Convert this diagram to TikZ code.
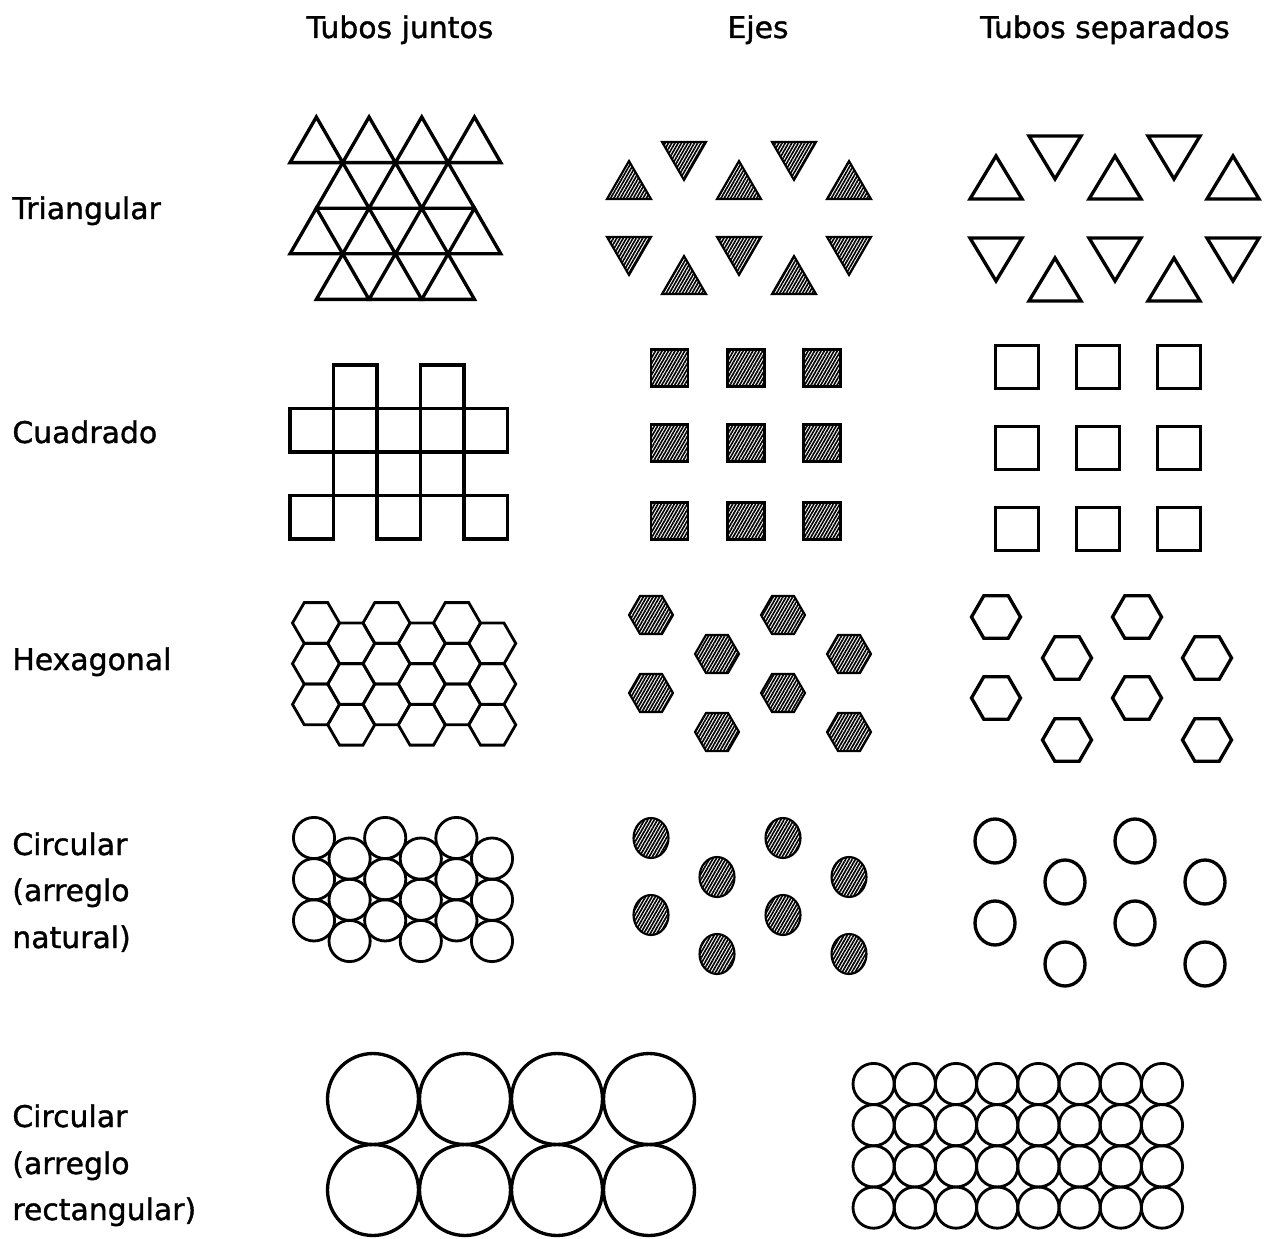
\documentclass[tikz,border=0pt]{standalone}
\usepackage{fontspec}
\setmainfont{DejaVu Sans}[UprightFeatures={FakeBold=1.2}]
\usetikzlibrary{patterns.meta}
% style, cx, apex y, side, height
\newcommand\triup[5]{\draw[#1] ({#2-#4/2},{#3+#5}) -- ({#2+#4/2},{#3+#5}) -- (#2,#3) -- cycle;}
% style, cx, top y, side, height
\newcommand\tridn[5]{\draw[#1] ({#2-#4/2},#3) -- ({#2+#4/2},#3) -- (#2,{#3+#5}) -- cycle;}
% style, cx, cy, R
\newcommand\hexg[4]{\draw[#1] ({#2+#4},#3) -- ({#2+#4/2},{#3+0.866*#4}) -- ({#2-#4/2},{#3+0.866*#4}) -- ({#2-#4},#3) -- ({#2-#4/2},{#3-0.866*#4}) -- ({#2+#4/2},{#3-0.866*#4}) -- cycle;}
\begin{document}
\begin{tikzpicture}[x=0.02cm,y=-0.02cm,
  tub/.style={draw=black,line width=1.9pt},
  tubthin/.style={draw=black,line width=1.6pt},
  eje/.style={draw=black,line width=1.2pt,pattern={Lines[angle=60,distance=1.6pt,line width=0.95pt]}},
  lbl/.style={inner sep=0pt,font=\fontsize{17}{20}\selectfont}]
\fill[white] (0,0) rectangle (1267,1239);
\useasboundingbox (0,0) rectangle (1267,1239);

% headers
\node[lbl,anchor=base] (h1) at (400,38) {Tubos juntos};
\node[lbl,anchor=base] (h2) at (758,38) {Ejes};
\node[lbl,anchor=base] (h3) at (1105,38) {Tubos separados};

% row labels
\node[lbl,anchor=base west] (l1) at (12,219) {Triangular};
\node[lbl,anchor=base west] (l2) at (12,443) {Cuadrado};
\node[lbl,anchor=base west] (l3) at (12,670) {Hexagonal};
\node[lbl,anchor=base west] (l4a) at (12,855) {Circular};
\node[lbl,anchor=base west] (l4b) at (12,901) {(arreglo};
\node[lbl,anchor=base west] (l4c) at (12,948) {natural)};
\node[lbl,anchor=base west] (l5a) at (12,1127) {Circular};
\node[lbl,anchor=base west] (l5b) at (12,1174) {(arreglo};
\node[lbl,anchor=base west] (l5c) at (12,1220) {rectangular)};

% ---------- triangular ----------
\foreach \r in {0,2} \foreach \i in {0,...,3}
  \draw[tub] ({290+52.7*\i},{162.6+45.6*\r}) -- ++(52.7,0) -- ++(-26.35,-45.6) -- cycle;
\foreach \r in {1,3} \foreach \i in {0,1,2}
  \draw[tub] ({316.35+52.7*\i},{162.6+45.6*\r}) -- ++(52.7,0) -- ++(-26.35,-45.6) -- cycle;

\foreach \c in {629,739,849} {\triup{eje}{\c}{161}{44}{38} \tridn{eje}{\c}{237}{44}{38}}
\foreach \c in {684,794} {\tridn{eje}{\c}{142}{44}{38} \triup{eje}{\c}{256}{44}{38}}

\foreach \c in {996,1115,1233} {\triup{tub}{\c}{156}{52}{43} \tridn{tub}{\c}{238}{52}{43}}
\foreach \c in {1055,1174} {\tridn{tub}{\c}{136}{52}{43} \triup{tub}{\c}{258}{52}{43}}

% ---------- squares ----------
\foreach \c/\r in {2/1,4/1,1/2,2/2,3/2,4/2,5/2,2/3,4/3,1/4,3/4,5/4}
  \draw[tub] ({290+43.5*(\c-1)},{365+43.5*(\r-1)}) rectangle ++(43.5,43.5);
\foreach \x in {669.5,746,822} \foreach \y in {368,443,521}
  \draw[eje] ({\x-18.5},{\y-18.5}) rectangle ++(37,37);
\foreach \x in {1017,1098,1179} \foreach \y in {367,448,529}
  \draw[tub] ({\x-21.5},{\y-21.5}) rectangle ++(43,43);

% ---------- hexagonal ----------
\foreach \k in {0,2,4} \foreach \y in {623,663.7,704.4} {\hexg{tubthin}{316+35.25*\k}{\y}{23.5}}
\foreach \k in {1,3,5} \foreach \y in {643.4,684,724.8} {\hexg{tubthin}{316+35.25*\k}{\y}{23.5}}
\foreach \x/\y in {651/615,717/654,783/615,849/654,651/693,783/693,717/732,849/732}
  {\hexg{eje}{\x}{\y}{22}}
\foreach \x/\y in {996/617,1067/658,1137/617,1207/658,996/698,1137/698,1067/740,1207/740}
  {\hexg{tub}{\x}{\y}{24.5}}

% ---------- circular (natural) ----------
\foreach \k in {0,2,4} \foreach \y in {838,879.2,920.4}
  \draw[tubthin] ({314+35.6*\k},\y) circle[radius=0.412cm];
\foreach \k in {1,3,5} \foreach \y in {858.6,899.8,941}
  \draw[tubthin] ({314+35.6*\k},\y) circle[radius=0.412cm];
\foreach \x/\y in {651/838,717/877,783/838,849/877,651/915,783/915,717/954,849/954}
  \draw[eje] (\x,\y) ellipse[x radius=0.35cm,y radius=0.40cm];
\foreach \x/\y in {995/841,1065/882,1135/841,1205/882,995/923,1135/923,1065/964,1205/964}
  \draw[tub] (\x,\y) ellipse[x radius=0.40cm,y radius=0.44cm];

% ---------- circular (rectangular) ----------
\foreach \x in {373,465,557,649} \foreach \y in {1099,1190}
  \draw[tub] (\x,\y) circle[radius=0.91cm];
\foreach \i in {0,...,7} \foreach \j in {0,...,3}
  \draw[tubthin] ({873.6+41.2*\i},{1084+41.2*\j}) circle[radius=0.412cm];
\end{tikzpicture}
\end{document}
